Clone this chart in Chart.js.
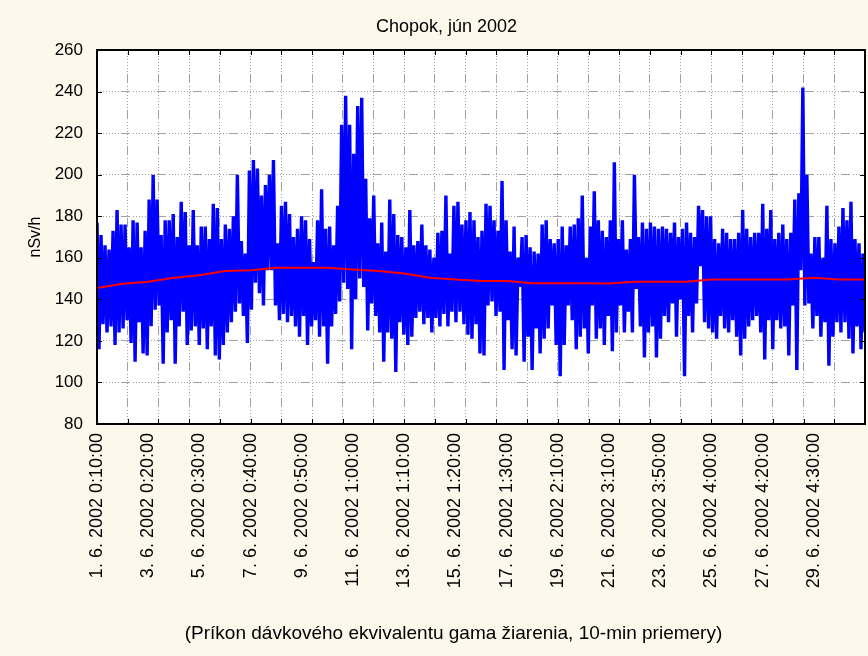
<!DOCTYPE html>
<html>
<head>
<meta charset="utf-8">
<script src="https://cdn.jsdelivr.net/npm/chart.js@4.4.0/dist/chart.umd.min.js"></script>
<style>
  html, body { margin: 0; padding: 0; background: #fcf8ec; }
  #wrap { width: 868px; height: 656px; }
</style>
</head>
<body>
<div id="wrap"><canvas id="chopok" width="868" height="656"></canvas></div>
<script>
const peaks = [
  177,171,166,164,173,183,176,176,165,178,177,165,173,188,200,188,171,178,178,181,170,187,182,166,183,166,175,175,169,186,184,169,
  176,174,180,200,168,162,202,207,203,190,195,200,207,167,185,187,181,170,174,180,178,169,158,178,193,174,175,166,185,224,238,224,
  210,233,237,198,179,190,167,177,163,188,181,171,170,165,183,166,168,176,166,164,160,172,173,190,162,185,187,176,178,182,178,170,
  173,186,185,178,173,197,178,163,175,160,170,171,165,163,162,176,178,169,167,169,175,166,175,176,179,190,160,175,192,178,173,170,
  178,206,169,178,164,169,200,170,177,174,177,175,174,175,174,172,177,170,174,177,172,170,185,183,180,180,169,167,174,172,169,169,
  172,183,174,170,172,172,186,174,183,169,172,176,169,172,188,191,242,200,162,170,170,160,185,169,167,175,184,178,187,169,167,162
];
const dips = [
  116,128,124,127,118,124,126,130,119,110,129,114,113,127,135,137,109,124,130,109,127,134,118,125,127,118,126,116,127,113,111,118,
  124,129,134,138,132,119,135,148,143,137,154,154,137,130,133,129,132,127,122,132,118,127,130,122,127,109,127,133,139,148,145,116,
  140,150,146,125,138,132,124,110,124,121,105,129,123,118,122,131,134,128,131,124,131,127,133,127,134,129,134,128,123,121,128,114,
  113,137,139,132,134,106,130,116,113,146,110,122,106,126,114,121,126,137,118,103,118,137,130,116,122,126,114,137,121,126,118,132,
  115,124,137,124,134,124,145,127,112,124,127,112,121,132,129,138,122,140,103,132,124,138,156,129,126,124,121,132,126,124,130,122,
  113,121,127,130,132,124,111,130,116,130,126,127,113,137,106,154,137,138,126,132,122,129,108,122,129,124,129,121,114,127,116,124
];

// trend (red), one value per day 0..30
const trendDays = [0,1,2,3,4,5,6,7,8,9,10,11,12,13,14,15,16,17,18,19,20,21,22,23,24,25,26,27,28,29,30];
const trend = [145.5,147.5,148.5,150.4,151.6,153.6,154,155.2,155.2,155.2,154.4,153.6,152.4,150.4,149.6,148.8,148.8,147.7,147.7,147.7,147.6,148.5,148.5,148.5,149.6,149.6,149.6,149.6,150.4,149.6,149.6];

const labelDays = [0,2,4,6,8,10,12,14,16,18,20,22,24,26,28];
const xLabels = [
  '1. 6. 2002 0:10:00', '3. 6. 2002 0:20:00', '5. 6. 2002 0:30:00', '7. 6. 2002 0:40:00',
  '9. 6. 2002 0:50:00', '11. 6. 2002 1:00:00', '13. 6. 2002 1:10:00', '15. 6. 2002 1:20:00',
  '17. 6. 2002 1:30:00', '19. 6. 2002 2:10:00', '21. 6. 2002 3:10:00', '23. 6. 2002 3:50:00',
  '25. 6. 2002 4:00:00', '27. 6. 2002 4:20:00', '29. 6. 2002 4:30:00'
];

const chartTitle = 'Chopok, jún 2002';
const axisTitle = '(Príkon dávkového ekvivalentu gama žiarenia, 10-min priemery)';

const totalDays = 30;
const step = totalDays / (peaks.length * 2 - 1);
const blueData = [];
peaks.forEach(function (p, i) {
  blueData.push({ x: 2 * i * step, y: p });
  blueData.push({ x: (2 * i + 1) * step, y: dips[i] });
});
const redData = trendDays.map(function (d, i) { return { x: d, y: trend[i] }; });

const gridDash = [1,2,1,2,1,2,1,2,1,2,1,2,1,2,1,2,9,3];

Chart.defaults.font.family = "'Liberation Sans', Arial, sans-serif";
Chart.defaults.color = '#000';

// cream background, white plot, black frame and inward tick marks
const frame = {
  id: 'frame',
  beforeDraw(chart) {
    const { ctx, chartArea: a } = chart;
    ctx.save();
    ctx.fillStyle = '#fcf8ec';
    ctx.fillRect(0, 0, chart.width, chart.height);
    ctx.fillStyle = '#ffffff';
    ctx.fillRect(a.left, a.top, a.right - a.left, a.bottom - a.top);
    ctx.restore();
  },
  afterDraw(chart) {
    const { ctx, chartArea: a, scales } = chart;
    ctx.save();
    ctx.strokeStyle = '#000';
    ctx.lineWidth = 1;
    ctx.beginPath();
    scales.xg.ticks.forEach(function (t) {
      const px = Math.round(scales.xg.getPixelForValue(t.value)) + 0.5;
      ctx.moveTo(px, a.top); ctx.lineTo(px, a.top + 5);
      ctx.moveTo(px, a.bottom); ctx.lineTo(px, a.bottom - 5);
    });
    scales.y.ticks.forEach(function (t) {
      const py = Math.round(scales.y.getPixelForValue(t.value)) + 0.5;
      ctx.moveTo(a.left, py); ctx.lineTo(a.left + 5, py);
      ctx.moveTo(a.right, py); ctx.lineTo(a.right - 5, py);
    });
    ctx.stroke();
    ctx.lineWidth = 2;
    ctx.strokeRect(a.left, a.top, a.right - a.left, a.bottom - a.top);
    ctx.restore();
  }
};

// the original centres its titles a bit right of the canvas middle
const shiftTitles = {
  id: 'shiftTitles',
  afterLayout(chart) {
    chart.boxes.forEach(function (b) {
      if (!b.options) return;
      if (b.options.text === chartTitle) b.left = 28;
      if (b.options.text === axisTitle) b.left = 42;
    });
  }
};

new Chart(document.getElementById('chopok'), {
  type: 'line',
  data: {
    datasets: [
      {
        label: 'trend',
        data: redData,
        borderColor: '#ff0000',
        borderWidth: 2,
        pointRadius: 0,
        order: 0
      },
      {
        label: 'nSv/h',
        data: blueData,
        borderColor: '#0000ff',
        borderWidth: 3.4,
        borderJoinStyle: 'miter',
        pointRadius: 0,
        order: 1
      }
    ]
  },
  options: {
    responsive: false,
    animation: false,
    layout: { padding: { right: 3 } },
    plugins: {
      legend: { display: false },
      tooltip: { enabled: false },
      title: {
        display: true,
        text: chartTitle,
        font: { size: 18, weight: 'normal' },
        color: '#000',
        padding: { top: 16.2, bottom: 12.2 }
      },
      subtitle: {
        display: true,
        position: 'bottom',
        text: axisTitle,
        font: { size: 19, weight: 'normal' },
        color: '#000',
        padding: { top: 0, bottom: 10.5 }
      }
    },
    scales: {
      x: {
        type: 'linear',
        position: 'bottom',
        min: 0,
        max: totalDays,
        afterBuildTicks: function (s) { s.ticks = labelDays.map(function (v) { return { value: v }; }); },
        afterFit: function (s) { s.height = 198.7; },
        ticks: {
          autoSkip: false,
          minRotation: 90,
          maxRotation: 90,
          padding: 9,
          font: { size: 18 },
          color: '#000',
          callback: function (v, i) { return xLabels[i]; }
        },
        grid: { display: false, drawTicks: false },
        border: { display: false }
      },
      xg: {
        type: 'linear',
        position: 'top',
        min: 0,
        max: totalDays,
        afterFit: function (s) { s.height = 0; },
        ticks: { display: false, stepSize: 1.2 },
        grid: { color: '#a0a0a0', drawTicks: false },
        border: { display: false, dash: gridDash }
      },
      y: {
        min: 80,
        max: 260,
        afterFit: function (s) { s.width = 97; },
        ticks: { stepSize: 20, padding: 14, font: { size: 17 }, color: '#000' },
        grid: { color: '#a0a0a0', drawTicks: false },
        border: { display: false, dash: gridDash },
        title: {
          display: true,
          text: 'nSv/h',
          font: { size: 16 },
          color: '#000',
          padding: { top: 26, bottom: 0 }
        }
      }
    }
  },
  plugins: [frame, shiftTitles]
});
</script>
</body>
</html>
